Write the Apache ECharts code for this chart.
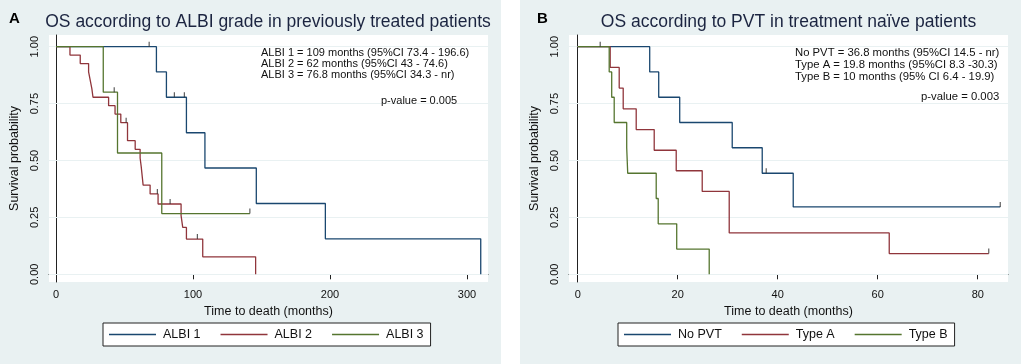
<!DOCTYPE html>
<html>
<head>
<meta charset="utf-8">
<script src="https://cdn.jsdelivr.net/npm/echarts@6/dist/echarts.min.js"></script>
<style>
  html, body { margin: 0; padding: 0; background: #fff; }
  .panel { position: absolute; top: 0; width: 501px; height: 364px; background: #e9f1f2; }
  #panelA { left: 0; }
  #panelB { left: 520px; }
</style>
</head>
<body>
<div id="panelA" class="panel"></div>
<div id="panelB" class="panel"></div>
<script>
const FONT = "'Liberation Sans', Arial, sans-serif";
const NAVY = '#1a476f', MAROON = '#90353b', GREEN = '#55752f';

// y ticks shared by both panels
const survTicks = [0, 0.25, 0.5, 0.75, 1];

// Panel A: OS by ALBI grade (previously treated)
const timeTicksA = [0, 100, 200, 300];
const albi1Time = [0, 73.3, 80.6, 95.2, 108.7, 146.2, 196.6, 310];
const albi1Surv = [1, 0.889, 0.778, 0.622, 0.467, 0.311, 0.156, 0];
const albi1CensTime = [68, 86.4, 93.7];
const albi1CensSurv = [1, 0.778, 0.778];

const albi2Time = [0, 10.2, 17.7, 23.8, 25, 26.2, 27, 38.4, 43.1, 47.3, 52.2, 57.8, 61.4, 62.2, 63.6, 68.7, 74.5, 91.3, 92.5, 95.2, 107.1, 145.7];
const albi2Surv = [1, 0.963, 0.926, 0.889, 0.852, 0.815, 0.778, 0.741, 0.704, 0.666, 0.587, 0.549, 0.511, 0.473, 0.392, 0.353, 0.309, 0.258, 0.206, 0.155, 0.077, 0];
const albi2CensTime = [51.2, 74, 83.3, 103.2];
const albi2CensSurv = [0.666, 0.353, 0.309, 0.155];

const albi3Time = [0, 34.5, 44.9, 77.2, 141.5];
const albi3Surv = [1, 0.8, 0.533, 0.267, 0.267];
const albi3CensTime = [42.5, 141.5];
const albi3CensSurv = [0.8, 0.267];

// Panel B: OS by PVT (treatment naive)
const timeTicksB = [0, 20, 40, 60, 80];
const noPvtTime = [0, 14.4, 16.2, 20.4, 30.9, 36.9, 43.1, 84.5];
const noPvtSurv = [1, 0.889, 0.778, 0.667, 0.556, 0.444, 0.296, 0.296];
const noPvtCensTime = [4.5, 37.7, 84.5];
const noPvtCensSurv = [1, 0.444, 0.296];

const typeATime = [0, 6.5, 8.3, 9.1, 11.7, 15.3, 19.7, 24.9, 30.3, 62.3, 82.2];
const typeASurv = [1, 0.909, 0.818, 0.727, 0.636, 0.545, 0.455, 0.364, 0.182, 0.091, 0.091];
const typeACensTime = [82.2];
const typeACensSurv = [0.091];

const typeBTime = [0, 6.3, 6.8, 7.3, 9.8, 10, 15.7, 16.1, 19.8, 26.3];
const typeBSurv = [1, 0.889, 0.778, 0.667, 0.556, 0.444, 0.333, 0.222, 0.111, 0];

function kmChart(el, cfg) {
    const chart = echarts.init(el);
    const series = [{
        // horizontal grid lines; markLine defaults to z 5, so push it under the curves
        type: 'line', data: [], z: 1, silent: true,
        markLine: {
            z: 1, silent: true, symbol: ['none', 'none'], label: {show: false},
            lineStyle: {color: '#e9f1f2', type: 'solid', width: 1},
            data: survTicks.map(v => ({yAxis: v}))
        }
    }];
    cfg.groups.forEach(g => {
        series.push({
            name: g.name, type: 'line', step: 'end', symbol: 'none', z: 3,
            data: g.t.map((t, i) => [t, g.s[i]]),
            lineStyle: {color: g.color, width: 1.3},
            itemStyle: {color: g.color}
        });
        if (g.ct) {
            series.push({
                name: g.name + ' censored', type: 'scatter', z: 4, silent: true,
                data: g.ct.map((t, i) => [t, g.cs[i]]),
                symbol: 'rect', symbolSize: [1.2, 5], symbolOffset: [0, -2.5],
                itemStyle: {color: '#333'}
            });
        }
    });

    chart.setOption({
        animation: false,
        textStyle: {fontFamily: FONT},
        grid: {left: cfg.gridLeft, right: cfg.gridRight, top: 35, bottom: 82,
               show: true, backgroundColor: '#fff', borderWidth: 0},
        xAxis: {
            type: 'value', min: cfg.xMin, max: cfg.xMax,
            name: 'Time to death (months)', nameLocation: 'middle', nameGap: 20,
            nameTextStyle: {fontSize: 12.5, color: '#111'},
            axisLine: {lineStyle: {color: '#222', width: 1}},
            axisTick: {length: 5, customValues: cfg.xTicks, lineStyle: {color: '#222'}},
            axisLabel: {customValues: cfg.xTicks, fontSize: 11, color: '#111', margin: 7},
            splitLine: {show: false}
        },
        yAxis: {
            type: 'value', min: -0.0338, max: 1.0514,
            name: 'Survival probability', nameLocation: 'middle', nameGap: 28, nameRotate: 90,
            nameTextStyle: {fontSize: 12.5, color: '#111'},
            axisLine: {show: true, lineStyle: {color: '#222', width: 1}},
            axisTick: {show: true, length: 5, customValues: survTicks, lineStyle: {color: '#222'}},
            axisLabel: {customValues: survTicks, rotate: 90, fontSize: 11, color: '#111', margin: 9,
                        formatter: v => v.toFixed(2)},
            splitLine: {show: false}
        },
        legend: {
            data: cfg.groups.map(g => g.name),
            left: cfg.legendLeft, top: 323,
            icon: 'rect', itemWidth: 47, itemHeight: 1.5, itemGap: 20,
            padding: [5, 7, 5, 6],
            backgroundColor: '#fff', borderColor: '#222', borderWidth: 1,
            textStyle: {fontSize: 12.5, color: '#111', padding: [0, 0, 0, 2]}
        },
        graphic: [
            {type: 'text', left: cfg.letterX, top: 11, z: 10,
             style: {text: cfg.letter, font: 'bold 15px ' + FONT, fill: '#000'}},
            {type: 'text', x: cfg.titleX, y: 22, z: 10,
             style: {text: cfg.title, font: '17.5px ' + FONT, fill: '#1b2440',
                     align: 'center', verticalAlign: 'middle'}},
            {type: 'text', x: cfg.noteX, y: 47, z: 10,
             style: {text: cfg.notes.join('\n'), font: cfg.noteSize + 'px ' + FONT,
                     lineHeight: cfg.noteLine, fill: '#111'}},
            {type: 'text', x: cfg.pX, y: cfg.pY, z: 10,
             style: {text: cfg.pText, font: cfg.noteSize + 'px ' + FONT, fill: '#111',
                     verticalAlign: 'middle'}}
        ],
        series: series
    });
    return chart;
}

kmChart(document.getElementById('panelA'), {
    letter: 'A', letterX: 9, title: 'OS according to ALBI grade in previously treated patients', titleX: 268,
    gridLeft: 48, gridRight: 13, xMin: -5.1, xMax: 315.3, xTicks: timeTicksA, legendLeft: 103,
    notes: ['ALBI 1 = 109 months (95%CI 73.4 - 196.6)',
            'ALBI 2 = 62 months (95%CI 43 - 74.6)',
            'ALBI 3 = 76.8 months (95%CI 34.3 - nr)'],
    noteX: 261, noteSize: 11, noteLine: 11, pText: 'p-value = 0.005', pX: 381, pY: 101,
    groups: [
        {name: 'ALBI 1', color: NAVY, t: albi1Time, s: albi1Surv, ct: albi1CensTime, cs: albi1CensSurv},
        {name: 'ALBI 2', color: MAROON, t: albi2Time, s: albi2Surv, ct: albi2CensTime, cs: albi2CensSurv},
        {name: 'ALBI 3', color: GREEN, t: albi3Time, s: albi3Surv, ct: albi3CensTime, cs: albi3CensSurv}
    ]
});

kmChart(document.getElementById('panelB'), {
    letter: 'B', letterX: 17, title: 'OS according to PVT in treatment naïve patients', titleX: 268.5,
    gridLeft: 49, gridRight: 13, xMin: -1.74, xMax: 86.05, xTicks: timeTicksB, legendLeft: 98,
    notes: ['No PVT = 36.8 months (95%CI 14.5 - nr)',
            'Type A = 19.8 months (95%CI 8.3 -30.3)',
            'Type B = 10 months (95% CI 6.4 - 19.9)'],
    noteX: 275, noteSize: 11.3, noteLine: 11.8, pText: 'p-value = 0.003', pX: 401, pY: 97,
    groups: [
        {name: 'No PVT', color: NAVY, t: noPvtTime, s: noPvtSurv, ct: noPvtCensTime, cs: noPvtCensSurv},
        {name: 'Type A', color: MAROON, t: typeATime, s: typeASurv, ct: typeACensTime, cs: typeACensSurv},
        {name: 'Type B', color: GREEN, t: typeBTime, s: typeBSurv}
    ]
});
</script>
</body>
</html>
